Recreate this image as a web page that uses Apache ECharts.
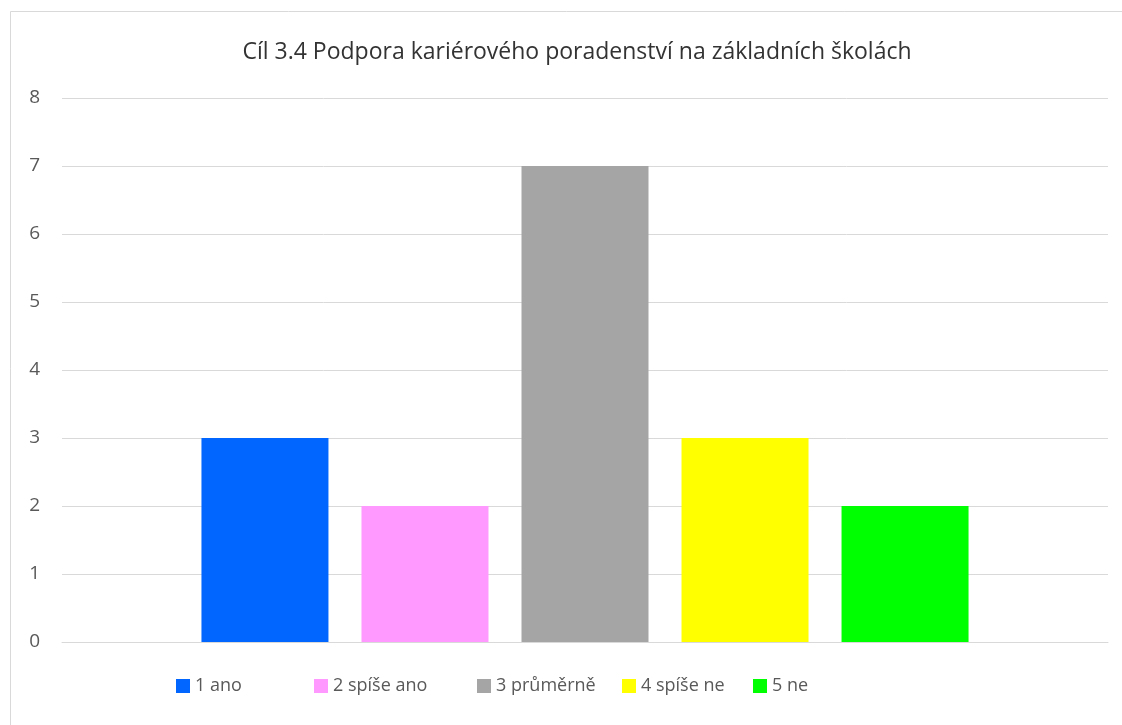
<!DOCTYPE html>
<html>
<head>
<meta charset="utf-8">
<script src="https://cdn.jsdelivr.net/npm/echarts@6/dist/echarts.min.js"></script>
<style>
  html, body { margin: 0; padding: 0; background: #fff; }
  #chart { width: 1122px; height: 725px; }
</style>
</head>
<body>
<div id="chart"></div>
<script>
// data
const categories = [''];
const seriesNames = ['1 ano', '2 spíše ano', '3 průměrně', '4 spíše ne', '5 ne'];
const seriesValues = [3, 2, 7, 3, 2];
const seriesColors = ['#0066FF', '#FF99FF', '#A5A5A5', '#FFFF00', '#00FF00'];
const legendLeft = [176, 314, 477, 622, 753];

const fontFamily = '"Open Sans", "Noto Sans", sans-serif';

let chart = echarts.init(document.getElementById('chart'), null, { renderer: 'canvas' });

let option = {
  animation: false,
  backgroundColor: '#fff',
  textStyle: { fontFamily: fontFamily },
  title: {
    text: 'Cíl 3.4 Podpora kariérového poradenství na základních školách',
    left: 572,
    top: 36,
    textAlign: 'center',
    textStyle: { fontSize: 23, fontWeight: 'normal', color: '#333333', fontFamily: fontFamily }
  },
  // one legend per entry, so the spacing follows the original
  legend: seriesNames.map(function (name, i) {
    return {
      data: [name],
      left: legendLeft[i],
      top: 677,
      padding: 0,
      itemWidth: 14,
      itemHeight: 14,
      icon: 'rect',
      textStyle: { fontSize: 18, color: '#595959', fontFamily: fontFamily }
    };
  }),
  grid: { left: 62, right: 14, top: 98, bottom: 83, containLabel: false },
  xAxis: {
    type: 'category',
    data: categories,
    axisLine: { show: true, lineStyle: { color: '#D9D9D9', width: 1 } },
    axisTick: { show: false },
    axisLabel: { show: false }
  },
  yAxis: {
    type: 'value',
    min: 0,
    max: 8,
    interval: 1,
    axisLine: { show: false },
    axisTick: { show: false },
    axisLabel: { fontSize: 19, color: '#595959', margin: 22, fontFamily: fontFamily },
    splitLine: { lineStyle: { color: '#D9D9D9', width: 1 } }
  },
  graphic: [{
    type: 'rect',
    shape: { x: 10.5, y: 11.5, width: 1130, height: 730 },
    style: { fill: 'none', stroke: '#D9D9D9', lineWidth: 1 },
    silent: true
  }],
  series: seriesNames.map(function (name, i) {
    return {
      name: name,
      type: 'bar',
      data: [seriesValues[i]],
      barWidth: 127,
      barGap: '26%',
      itemStyle: { color: seriesColors[i] }
    };
  })
};

chart.setOption(option);
</script>
</body>
</html>
